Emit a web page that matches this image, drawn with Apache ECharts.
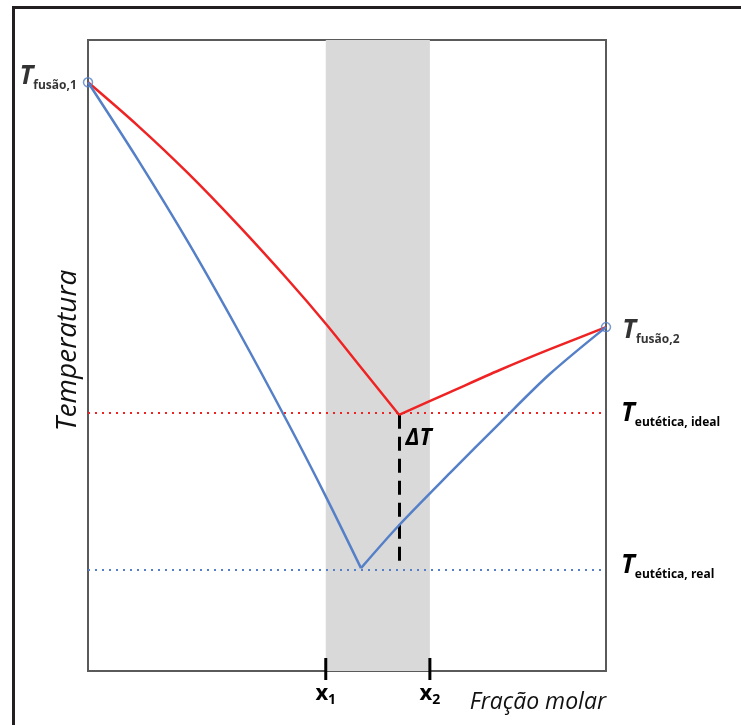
<!DOCTYPE html>
<html><head><meta charset="utf-8">
<script src="https://cdn.jsdelivr.net/npm/echarts@6/dist/echarts.min.js"></script>
<style>html,body{margin:0;padding:0;background:#fff}#c{width:741px;height:725px}</style>
</head><body><div id="c"></div>
<script>
// ---- data (normalised: x = molar fraction 0..1, y = temperature 0..1) ----
const redLeftX  = [0, 0.0965, 0.193, 0.2896, 0.3861, 0.4595, 0.5251, 0.6004];
const redLeftY  = [0.933, 0.864, 0.789, 0.707, 0.620, 0.550, 0.483, 0.406];
const redRightX = [0.6004, 0.699, 0.795, 0.892, 1.0];
const redRightY = [0.406, 0.442, 0.477, 0.510, 0.545];
const blueLeftX = [0, 0.0965, 0.193, 0.2896, 0.3861, 0.4595, 0.527];
const blueLeftY = [0.933, 0.810, 0.680, 0.540, 0.393, 0.276, 0.163];
const blueRightX = [0.527, 0.6004, 0.699, 0.795, 0.892, 1.0];
const blueRightY = [0.163, 0.231, 0.314, 0.393, 0.471, 0.545];
const meltPointsX = [0, 1.0];
const meltPointsY = [0.933, 0.545];
const meltSubs = ['fusão,1', 'fusão,2'];
const eutecticIdeal = 0.406;
const eutecticReal = 0.163;
const eutecticIdealX = 0.6004;
const bandX = [0.459, 0.660];
const xTickNames = ['x', 'x'];
const xTickSubs = ['1', '2'];
const xAxisName = 'Fração molar';
const yAxisName = 'Temperatura';
const eutSubs = ['eutética, ideal', 'eutética, real'];
const deltaLabel = 'ΔT';

const zip = (xs, ys) => xs.map((x, i) => [x, ys[i]]);
const RED = '#ef2323', BLUE = '#5580c8';
const FF = '"Open Sans", "Noto Sans", sans-serif';
const tRich = {
  T: {fontFamily: FF, fontSize: 26, fontWeight: 'bold', fontStyle: 'italic', color: '#000', lineHeight: 30},
  s: {fontFamily: FF, fontSize: 12, fontWeight: 'bold', color: '#000', verticalAlign: 'bottom', lineHeight: 14}
};
const lineSeries = (xs, ys, color) => ({
  type: 'line', data: zip(xs, ys), smooth: 0.3, symbol: 'none', z: 5,
  lineStyle: {color: color, width: 2.5}
});

const chart = echarts.init(document.getElementById('c'), null, {renderer: 'canvas'});
chart.setOption({
  animation: false,
  backgroundColor: '#fff',
  grid: {left: 88, top: 40, width: 518, height: 631, show: true, borderColor: '#5a5a5a', borderWidth: 2, backgroundColor: 'transparent'},
  xAxis: {
    type: 'value', min: 0, max: 1,
    axisLine: {show: false}, axisTick: {show: false}, axisLabel: {show: false}, splitLine: {show: false},
    name: xAxisName, nameLocation: 'end', nameGap: 0,
    nameTextStyle: {fontFamily: FF, fontSize: 23, fontStyle: 'italic', color: '#111', align: 'right', verticalAlign: 'top', padding: [20, 0, 0, 0]}
  },
  yAxis: {
    type: 'value', min: 0, max: 1,
    axisLine: {show: false}, axisTick: {show: false}, axisLabel: {show: false}, splitLine: {show: false},
    name: yAxisName, nameLocation: 'middle', nameGap: 6, nameRotate: 90,
    nameTextStyle: {fontFamily: FF, fontSize: 28, fontStyle: 'italic', color: '#111', padding: [0, 0, 0, 10]}
  },
  graphic: [{
    type: 'polyline', silent: true,
    shape: {points: [[13.5, 725], [13.5, 7.5], [741, 7.5]]},
    style: {stroke: '#231f20', lineWidth: 3, fill: null}
  }],
  series: [
    {
      type: 'line', data: [], z: 1,
      markArea: {silent: true, itemStyle: {color: '#d9d9d9', opacity: 1}, data: [[{xAxis: bandX[0]}, {xAxis: bandX[1]}]]}
    },
    {
      type: 'line', data: [], z: 3,
      markLine: {
        silent: true, symbol: 'none', animation: false,
        lineStyle: {color: RED, type: [2, 5], width: 2},
        label: {show: true, position: 'end', distance: 15, offset: [0, 1], formatter: '{T|T}{s|' + eutSubs[0] + '}', rich: tRich},
        data: [{yAxis: eutecticIdeal}]
      }
    },
    {
      type: 'line', data: [], z: 3,
      markLine: {
        silent: true, symbol: 'none', animation: false,
        lineStyle: {color: BLUE, type: [2, 5], width: 2},
        label: {show: true, position: 'end', distance: 15, offset: [0, -4], formatter: '{T|T}{s|' + eutSubs[1] + '}', rich: tRich},
        data: [{yAxis: eutecticReal}]
      }
    },
    {
      type: 'line', data: [], z: 4,
      markLine: {
        silent: true, symbol: 'none', animation: false,
        lineStyle: {color: '#000', type: [14, 8], width: 3},
        label: {show: false},
        data: [[{coord: [eutecticIdealX, eutecticIdeal]}, {coord: [eutecticIdealX, eutecticReal]}]]
      },
      markPoint: {
        silent: true, symbol: 'circle', symbolSize: 1, itemStyle: {color: 'rgba(0,0,0,0)'},
        label: {show: true, position: 'right', distance: 6, offset: [0, 24], formatter: deltaLabel,
          fontFamily: FF, fontSize: 23, fontWeight: 'bold', fontStyle: 'italic', color: '#000'},
        data: [{coord: [eutecticIdealX, eutecticIdeal]}]
      }
    },
    lineSeries(redLeftX, redLeftY, RED),
    lineSeries(redRightX, redRightY, RED),
    lineSeries(blueLeftX, blueLeftY, BLUE),
    lineSeries(blueRightX, blueRightY, BLUE),
    {
      type: 'scatter', z: 6, symbol: 'circle', symbolSize: 9,
      itemStyle: {color: 'rgba(255,255,255,0)', borderColor: BLUE, borderWidth: 1.5},
      data: zip(meltPointsX, meltPointsY).map((p, i) => ({
        value: p,
        label: {
          show: true, position: i === 0 ? 'left' : 'right', distance: i === 0 ? 6 : 11,
          offset: i === 0 ? [0, -6] : [0, 3],
          formatter: '{T|T}{s|' + meltSubs[i] + '}', rich: tRich
        }
      }))
    },
    {
      type: 'custom', z: 7, clip: false, silent: true,
      data: bandX.map((x, i) => [x, 0, i]),
      renderItem: (params, api) => {
        const p = api.coord([api.value(0), 0]);
        const i = api.value(2);
        return {
          type: 'group',
          children: [
            {type: 'line', shape: {x1: p[0], y1: p[1] - 13, x2: p[0], y2: p[1] + 9}, style: {stroke: '#000', lineWidth: 3}},
            {type: 'text', x: p[0], y: p[1] + 10, style: {
              text: '{x|' + xTickNames[i] + '}{s|' + xTickSubs[i] + '}', align: 'center', verticalAlign: 'top',
              rich: {
                x: {fontFamily: FF, fontSize: 22, fontWeight: 'bold', fill: '#000', lineHeight: 26},
                s: {fontFamily: FF, fontSize: 14, fontWeight: 'bold', fill: '#000', verticalAlign: 'bottom', lineHeight: 15}
              }
            }}
          ]
        };
      }
    }
  ]
});
</script></body></html>
